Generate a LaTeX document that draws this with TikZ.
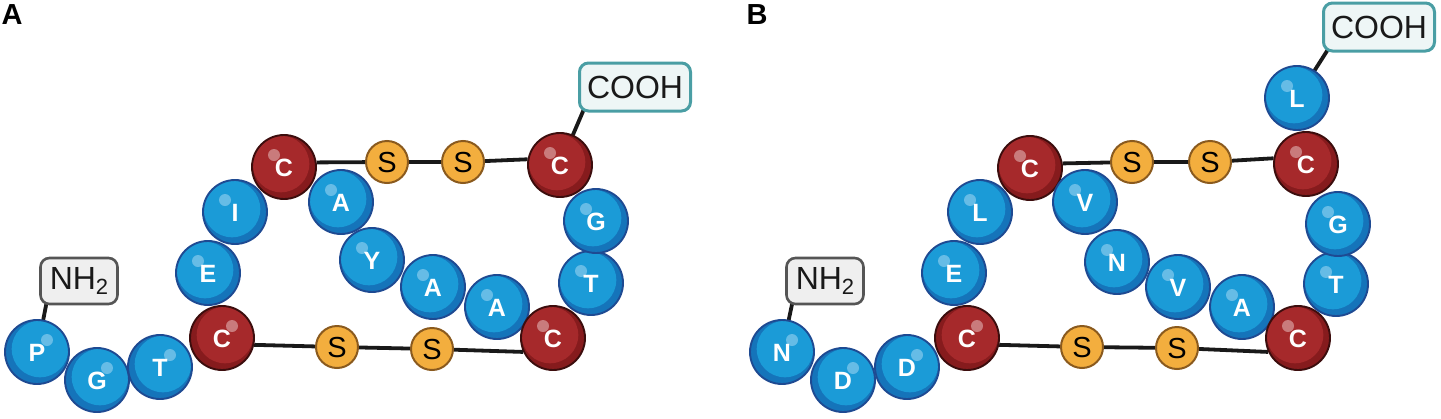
\documentclass[tikz,border=0pt]{standalone}
\usepackage{fontspec}
\setmainfont{Liberation Sans}
\usetikzlibrary{calc}
\pgfdeclarelayer{bg}
\pgfsetlayers{bg,main}
\definecolor{bfill}{HTML}{1B9BD7}
\definecolor{bdark}{HTML}{1574BA}
\definecolor{bline}{HTML}{1E4A92}
\definecolor{bhl}{HTML}{66BCE6}
\definecolor{rfill}{HTML}{A6292B}
\definecolor{rdark}{HTML}{861B1D}
\definecolor{rline}{HTML}{3C0D0D}
\definecolor{rhl}{HTML}{C97B7C}
\definecolor{sfill}{HTML}{F3AE3E}
\definecolor{sline}{HTML}{8A5A1E}
\definecolor{cbox}{HTML}{4A9EA4}
\definecolor{cboxfill}{HTML}{EEF6F6}
\definecolor{nbox}{HTML}{555555}
\definecolor{nboxfill}{HTML}{EFEFEF}
\tikzset{
  ballbase/.style={circle, minimum size=64pt, inner sep=0pt, line width=1.9pt,
    text=white, font=\fontsize{25}{25}\selectfont\bfseries, text height=18pt, text depth=0pt},
  gloss/.style n args={3}{path picture={
    \fill[#1] ($(path picture bounding box.center)+(#3*3,-3)$) circle (28.3pt);
    \fill[#2] ($(path picture bounding box.center)+(#3*10,-12)$) circle (6pt);}},
  bL/.style={ballbase, draw=bline, fill=bdark, gloss={bfill}{bhl}{-1}},
  bR/.style={ballbase, draw=bline, fill=bdark, gloss={bfill}{bhl}{1}},
  rL/.style={ballbase, draw=rline, fill=rdark, gloss={rfill}{rhl}{-1}},
  rR/.style={ballbase, draw=rline, fill=rdark, gloss={rfill}{rhl}{1}},
  sulf/.style={circle, minimum size=42pt, inner sep=0pt, line width=2pt, draw=sline, fill=sfill,
    font=\fontsize{29}{29}\selectfont, text height=21pt, text depth=0pt},
  bond/.style={line width=3.8pt, black!90},
  cooh/.style={draw=cbox, fill=cboxfill, line width=3pt, rounded corners=9pt,
    minimum width=111pt, minimum height=48pt, inner sep=0pt, font=\fontsize{32}{32}\selectfont, text=black!90},
  nh/.style={draw=nbox, fill=nboxfill, line width=2.6pt, rounded corners=9pt,
    minimum width=77pt, minimum height=46pt, inner sep=0pt, font=\fontsize{32}{32}\selectfont, text=black!90},
  panel/.style={font=\fontsize{29}{29}\selectfont\bfseries, inner sep=0pt, text height=21pt, text depth=0pt}
}
\newcommand{\nhtwo}{NH\raisebox{-5pt}{\fontsize{22}{22}\selectfont 2}}
\begin{document}
\begin{tikzpicture}[x=1pt,y=-1pt]
\useasboundingbox (0,0) rectangle (1441,418);
% ---------- Panel A ----------
\node[panel] (labA) at (12,14) {A};
\node[nh] (nhA) at (79,281) {\nhtwo};
\node[cooh] (coA) at (635,87) {COOH};
\coordinate (nhAend) at (49,290);
\coordinate (coAend) at (590,95);
\node[sulf] (sA1) at (387,162) {S};
\node[sulf] (sA2) at (463,162) {S};
\node[sulf] (sA3) at (337,347) {S};
\node[sulf] (sA4) at (432,349) {S};
\node[bR] (pA) at (37,352) {P};
\node[bR] (gA) at (97,380) {G};
\node[bR] (tA) at (160,367) {T};
\node[rR] (cA1) at (222,338) {C};
\node[bL] (eA) at (208,273) {E};
\node[bL] (iA) at (235,212) {I};
\node[rL] (cA2) at (284,167) {C};
\node[bL] (aA1) at (341,202) {A};
\node[bL] (yA) at (372,260) {Y};
\node[bL] (aA2) at (433,287) {A};
\node[bL] (aA3) at (497,307) {A};
\node[rL] (cA4) at (553,338) {C};
\node[bL] (tA2) at (591,283) {T};
\node[bL] (gA2) at (596,221) {G};
\node[rL] (cA3) at (560,165) {C};
% ---------- Panel B ----------
\node[panel] (labB) at (757,14) {B};
\node[nh] (nhB) at (825,281) {\nhtwo};
\node[cooh] (coB) at (1379,27) {COOH};
\coordinate (nhBend) at (795,290);
\coordinate (coBend) at (1334,40);
\node[sulf] (sB1) at (1132,162) {S};
\node[sulf] (sB2) at (1210,162) {S};
\node[sulf] (sB3) at (1082,347) {S};
\node[sulf] (sB4) at (1177,348) {S};
\node[bR] (nB) at (782,352) {N};
\node[bR] (dB1) at (843,380) {D};
\node[bR] (dB2) at (907,367) {D};
\node[rR] (cB1) at (967,338) {C};
\node[bL] (eB) at (954,273) {E};
\node[bL] (lB1) at (980,212) {L};
\node[rL] (cB2) at (1030,168) {C};
\node[bL] (vB1) at (1085,202) {V};
\node[bL] (nB2) at (1117,262) {N};
\node[bL] (vB2) at (1178,287) {V};
\node[bL] (aB) at (1242,307) {A};
\node[rL] (cB4) at (1298,338) {C};
\node[bL] (tB) at (1336,284) {T};
\node[bL] (gB) at (1338,224) {G};
\node[rL] (cB3) at (1306,164) {C};
\node[bL] (lB2) at (1297,98) {L};
% ---------- bonds (behind) ----------
\begin{pgfonlayer}{bg}
\draw[bond] (pA.center) -- (nhAend);
\draw[bond] (cA3.center) -- (coAend);
\draw[bond] (cA2.8) -- (sA1) -- (sA2) -- (cA3.170);
\draw[bond] (cA1.-12) -- (sA3) -- (sA4) -- (cA4.205);
\draw[bond] (nB.center) -- (nhBend);
\draw[bond] (lB2.center) -- (coBend);
\draw[bond] (cB2.8) -- (sB1) -- (sB2) -- (cB3.170);
\draw[bond] (cB1.-12) -- (sB3) -- (sB4) -- (cB4.205);
\end{pgfonlayer}
\end{tikzpicture}
\end{document}
